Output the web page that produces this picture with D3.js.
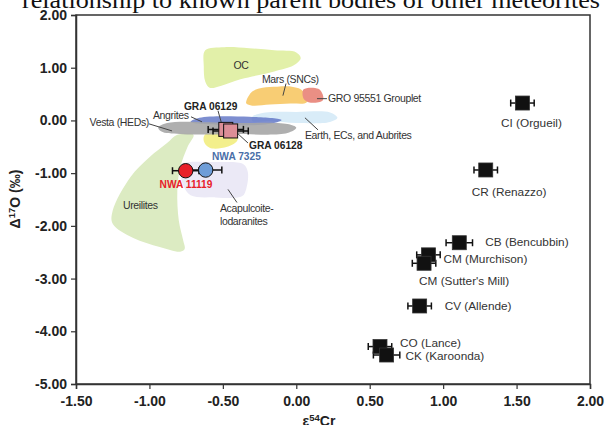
<!DOCTYPE html>
<html><head><meta charset="utf-8">
<script src="https://cdn.jsdelivr.net/npm/d3@7"></script>
<style>
html,body{margin:0;padding:0;background:#fff;}
svg{display:block;}
</style></head>
<body>
<svg id="c" width="606" height="425"></svg>
<script>
// ---------- DATA ----------
const xTicks = [-1.5, -1.0, -0.5, 0, 0.5, 1.0, 1.5, 2.0];
const yTicks = [2, 1, 0, -1, -2, -3, -4, -5];

// carbonaceous chondrites (black squares)
const chondriteNames = ["CI (Orgueil)", "CR (Renazzo)", "CB (Bencubbin)", "CM (Murchison)", "CM (Sutter's Mill)", "CV (Allende)", "CO (Lance)", "CK (Karoonda)"];
const chondriteCr  = [1.54, 1.29, 1.11, 0.90, 0.87, 0.84, 0.57, 0.615];
const chondriteO   = [0.33, -0.94, -2.32, -2.55, -2.71, -3.52, -4.29, -4.45];
const chondriteErr = [0.08, 0.08, 0.09, 0.08, 0.08, 0.08, 0.08, 0.09];

// ungrouped achondrites
const grNames = ["GRA 06129", "GRA 06128"];
const grCr  = [-0.48, -0.447];
const grO   = [-0.17, -0.20];
const grErr = [0.12, 0.12];

const nwaNames = ["NWA 11119", "NWA 7325"];
const nwaCr  = [-0.753, -0.617];
const nwaO   = [-0.954, -0.941];
const nwaErr = [0.09, 0.11];

// parent body fields (ε54Cr, Δ17O outline points)
const regionNames = ["Earth, ECs, and Aubrites", "OC", "Mars (SNCs)", "GRO 95551 Grouplet", "Ureilites", "Acapulcoite-lodaranites", "Unlabelled", "Angrites", "Vesta (HEDs)"];
const earthField = [[-0.30,0.07],[-0.21,0.15],[0.00,0.16],[0.23,0.15],[0.28,0.05],[0.23,-0.03],[0.00,-0.05],[-0.18,-0.01],[-0.30,-0.01]];
const ocField = [[-0.62,1.33],[-0.49,1.39],[-0.32,1.37],[-0.15,1.33],[0.00,1.29],[0.03,1.18],[-0.02,1.04],[-0.15,0.93],[-0.27,0.85],[-0.38,0.78],[-0.51,0.66],[-0.59,0.62],[-0.62,0.74],[-0.63,1.03]];
const marsField = [[-0.34,0.37],[-0.30,0.55],[-0.23,0.62],[-0.13,0.64],[-0.03,0.64],[0.03,0.59],[0.07,0.45],[0.07,0.34],[-0.04,0.32],[-0.18,0.30],[-0.30,0.28],[-0.34,0.32]];
const groField = [[0.05,0.59],[0.15,0.60],[0.18,0.49],[0.18,0.38],[0.09,0.34],[0.05,0.41]];
const ureiliteField = [[-0.81,-0.27],[-0.70,-0.27],[-0.74,-0.50],[-0.79,-0.89],[-0.81,-1.33],[-0.80,-1.90],[-0.77,-2.28],[-0.76,-2.44],[-0.79,-2.49],[-0.93,-2.40],[-1.11,-2.23],[-1.25,-1.96],[-1.25,-1.71],[-1.13,-1.08],[-1.00,-0.70],[-0.88,-0.43]];
const acapField = [[-0.78,-0.83],[-0.55,-0.79],[-0.36,-0.83],[-0.33,-0.98],[-0.34,-1.29],[-0.37,-1.44],[-0.55,-1.46],[-0.72,-1.42],[-0.77,-1.23],[-0.79,-0.98]];
const yellowField = [[-0.62,-0.26],[-0.42,-0.24],[-0.40,-0.37],[-0.47,-0.50],[-0.59,-0.52],[-0.63,-0.39]];
const angriteField = [[-0.72,-0.03],[-0.66,0.05],[-0.32,0.07],[-0.10,0.01],[-0.19,-0.07],[-0.54,-0.08]];
const vestaField = [[-0.94,-0.14],[-0.88,-0.05],[-0.43,-0.05],[-0.06,-0.07],[0.00,-0.14],[-0.06,-0.24],[-0.43,-0.26],[-0.77,-0.26],[-0.91,-0.22]];

// ---------- LAYOUT ----------
const W = 606, H = 425;
const x = d3.scaleLinear().domain([-1.5, 2]).range([76, 590]);
const y = d3.scaleLinear().domain([-5, 2]).range([384, 15]);

const fields = [earthField, ocField, marsField, groField, ureiliteField, acapField, yellowField, angriteField, vestaField];
const fieldStyle = [
  {fill:"#d9ecf8", op:1},
  {fill:"#e2f0a9", op:1},
  {fill:"#f8cd74", op:1},
  {fill:"#ea8f84", op:1},
  {fill:"#dcebc2", op:1},
  {fill:"#ebe9f6", op:1},
  {fill:"#f3ef8c", op:1},
  {fill:"#5d72c4", op:0.8},
  {fill:"#a6a6a6", op:0.9}
];

// region label anchors (data coords) and leader lines (data coords)
const regionLabels = [
  {t:"OC", at:[-0.377,0.968], anchor:"middle"},
  {t:"Mars (SNCs)", at:[-0.234,0.719], anchor:"start"},
  {t:"GRO 95551 Grouplet", at:[0.216,0.356], anchor:"start"},
  {t:"Earth, ECs, and Aubrites", at:[0.059,-0.352], anchor:"start"},
  {t:"Vesta (HEDs)", at:[-1.003,-0.103], anchor:"end"},
  {t:"Angrites", at:[-0.976,0.031], anchor:"start"},
  {t:"Ureilites", at:[-1.180,-1.671], anchor:"start"},
  {t:"Acapulcoite-", at:[-0.520,-1.729], anchor:"start"},
  {t:"lodaranites", at:[-0.520,-1.975], anchor:"start"}
];
const leaders = [
  [[-0.070,0.700],[-0.091,0.470]],
  [[0.141,0.413],[0.209,0.413]],
  [[0.059,0.050],[0.148,-0.180]],
  [[-1.003,-0.065],[-0.846,-0.199]],
  [[-0.717,0.069],[-0.642,-0.027]],
  [[-0.465,-1.308],[-0.404,-1.557]],
  [[-0.533,0.184],[-0.506,-0.084]],
  [[-0.404,-0.237],[-0.329,-0.428]]
];
// label offsets for chondrite points (px from point centre)
const chondriteLabelOffset = [[9,24,"middle"],[-14,26,"start"],[26,3,"start"],[15,8,"start"],[-5,22,"start"],[25,4,"start"],[20,0,"start"],[19,5,"start"]];

const svg = d3.select("#c");

// title (cut off at top)
svg.append("text").attr("x", 22).attr("y", 8)
  .attr("font-family", "'Liberation Serif','Times New Roman',serif")
  .attr("font-size", 23).attr("fill", "#111")
  .attr("textLength", 578).attr("lengthAdjust", "spacingAndGlyphs")
  .text("relationship to known parent bodies of other meteorites");

// fields
const area = d3.line().x(d => x(d[0])).y(d => y(d[1])).curve(d3.curveCatmullRomClosed.alpha(0.5));
svg.append("g").selectAll("path").data(fields).join("path")
  .attr("d", d => area(d))
  .attr("fill", (d,i) => fieldStyle[i].fill)
  .attr("fill-opacity", (d,i) => fieldStyle[i].op)
  .attr("stroke", "none");

// leader lines
svg.append("g").selectAll("line").data(leaders).join("line")
  .attr("x1", d => x(d[0][0])).attr("y1", d => y(d[0][1]))
  .attr("x2", d => x(d[1][0])).attr("y2", d => y(d[1][1]))
  .attr("stroke", "#444").attr("stroke-width", 1);

// region labels
svg.append("g").selectAll("text").data(regionLabels).join("text")
  .attr("x", d => x(d.at[0])).attr("y", d => y(d.at[1]))
  .attr("text-anchor", d => d.anchor)
  .attr("font-family", "'Liberation Sans',Arial,sans-serif")
  .attr("font-size", 10.5).attr("letter-spacing", -0.35)
  .attr("fill", "#333").text(d => d.t);

// error bar helper
function errBar(g, cx, cy, e) {
  const x1 = x(cx - e), x2 = x(cx + e), yy = y(cy);
  g.append("line").attr("x1", x1).attr("x2", x2).attr("y1", yy).attr("y2", yy)
    .attr("stroke", "#111").attr("stroke-width", 1.5);
  [x1, x2].forEach(xx => g.append("line").attr("x1", xx).attr("x2", xx)
    .attr("y1", yy - 3.5).attr("y2", yy + 3.5).attr("stroke", "#111").attr("stroke-width", 1.5));
}

// chondrites
const gC = svg.append("g");
chondriteNames.forEach((n, i) => errBar(gC, chondriteCr[i], chondriteO[i], chondriteErr[i]));
const sq = 14;
gC.selectAll("rect").data(chondriteNames).join("rect")
  .attr("x", (d,i) => x(chondriteCr[i]) - sq/2).attr("y", (d,i) => y(chondriteO[i]) - sq/2)
  .attr("width", sq).attr("height", sq)
  .attr("fill", "#111").attr("stroke", "#333").attr("stroke-width", 0.8);
gC.selectAll("text").data(chondriteNames).join("text")
  .attr("x", (d,i) => x(chondriteCr[i]) + chondriteLabelOffset[i][0])
  .attr("y", (d,i) => y(chondriteO[i]) + chondriteLabelOffset[i][1])
  .attr("text-anchor", (d,i) => chondriteLabelOffset[i][2])
  .attr("font-family", "'Liberation Sans',Arial,sans-serif")
  .attr("font-size", 11.8).attr("fill", "#333").text(d => d);

// GRA pair
const gG = svg.append("g");
grNames.forEach((n, i) => errBar(gG, grCr[i], grO[i], grErr[i]));
gG.selectAll("rect").data(grNames).join("rect")
  .attr("x", (d,i) => x(grCr[i]) - 7).attr("y", (d,i) => y(grO[i]) - 7)
  .attr("width", 14).attr("height", 14)
  .attr("fill", "#dc8e97").attr("stroke", "#111").attr("stroke-width", 1);

// NWA circles
const gN = svg.append("g");
nwaNames.forEach((n, i) => errBar(gN, nwaCr[i], nwaO[i], nwaErr[i]));
const nwaFill = ["#e8202a", "#6e9dd8"];
gN.selectAll("circle").data(nwaNames).join("circle")
  .attr("cx", (d,i) => x(nwaCr[i])).attr("cy", (d,i) => y(nwaO[i])).attr("r", 7.2)
  .attr("fill", (d,i) => nwaFill[i]).attr("stroke", "#111").attr("stroke-width", 1);

// bold sample labels
const sampleLabels = [
  {t:"GRA 06129", at:[-0.765,0.203], anchor:"start", c:"#222"},
  {t:"GRA 06128", at:[-0.322,-0.543], anchor:"start", c:"#222"},
  {t:"NWA 7325", at:[-0.574,-0.753], anchor:"start", c:"#4a6fa8"},
  {t:"NWA 11119", at:[-0.751,-1.289], anchor:"middle", c:"#e8202a"}
];
svg.append("g").selectAll("text").data(sampleLabels).join("text")
  .attr("x", d => x(d.at[0])).attr("y", d => y(d.at[1]))
  .attr("text-anchor", d => d.anchor)
  .attr("font-family", "'Liberation Sans',Arial,sans-serif")
  .attr("font-weight", "bold").attr("font-size", 10.2)
  .attr("fill", d => d.c).text(d => d.t);

// frame
const fr = svg.append("g").attr("stroke", "#333").attr("stroke-width", 1.5).attr("fill", "none");
fr.append("rect").attr("x", x(-1.5)).attr("y", y(2)).attr("width", x(2) - x(-1.5)).attr("height", y(-5) - y(2));

// axes
const fmt = d3.format(".2f");
const xAxis = svg.append("g").attr("transform", `translate(0,${y(-5)})`)
  .call(d3.axisBottom(x).tickValues(xTicks).tickFormat(d => fmt(d).replace("−","-")).tickSize(5).tickPadding(4));
const yAxis = svg.append("g").attr("transform", `translate(${x(-1.5)},0)`)
  .call(d3.axisLeft(y).tickValues(yTicks).tickFormat(d => fmt(d).replace("−","-")).tickSize(5).tickPadding(4));
[xAxis, yAxis].forEach(a => {
  a.select(".domain").attr("stroke", "#333").attr("stroke-width", 1.5);
  a.selectAll(".tick line").attr("stroke", "#333").attr("stroke-width", 1.2);
  a.selectAll(".tick text").attr("font-family", "'Liberation Sans',Arial,sans-serif")
    .attr("font-weight", "bold").attr("font-size", 14).attr("fill", "#222");
});
xAxis.selectAll(".tick text").attr("dy", "0.9em");

// axis titles
const xt = svg.append("text").attr("x", 319).attr("y", 426).attr("text-anchor", "middle")
  .attr("font-family", "'Liberation Sans',Arial,sans-serif").attr("font-weight", "bold")
  .attr("font-size", 14).attr("fill", "#222");
xt.append("tspan").text("ε");
xt.append("tspan").attr("font-size", 9.5).attr("dy", -5).text("54");
xt.append("tspan").attr("dy", 5).text("Cr");

const yt = svg.append("text").attr("transform", "translate(20,199) rotate(-90)").attr("text-anchor", "middle")
  .attr("font-family", "'Liberation Sans',Arial,sans-serif").attr("font-weight", "bold")
  .attr("font-size", 14).attr("fill", "#222");
yt.append("tspan").text("Δ");
yt.append("tspan").attr("font-size", 9.5).attr("dy", -5).text("17");
yt.append("tspan").attr("dy", 5).text("O (‰)");
</script>
</body></html>
